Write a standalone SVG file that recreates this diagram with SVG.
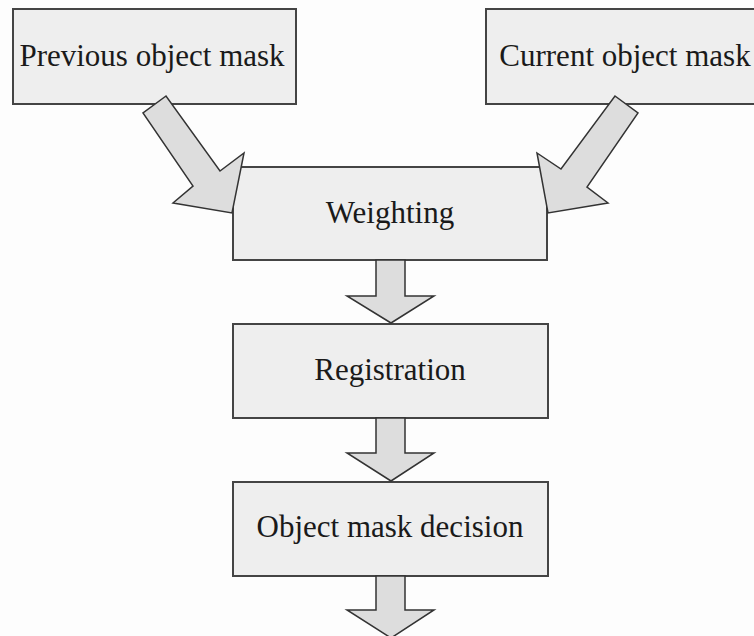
<svg xmlns="http://www.w3.org/2000/svg" width="754" height="636" viewBox="0 0 754 636">
  <style>
    .box { fill: #eeeeee; stroke: #444444; stroke-width: 2; }
    .arrow { fill: #dddddd; stroke: #333333; stroke-width: 1.5; stroke-linejoin: miter; }
    .label { font-family: "Liberation Serif", "Times New Roman", serif; font-size: 31px; fill: #1a1a1a; text-anchor: middle; }
  </style>
  <rect x="0" y="0" width="754" height="636" fill="#fdfdfd"/>

  <g id="previous-mask">
    <rect class="box" x="13" y="9" width="283" height="95"/>
    <text class="label" x="152" y="66">Previous object mask</text>
  </g>

  <g id="current-mask">
    <rect class="box" x="486" y="9" width="280" height="95"/>
    <text class="label" x="625" y="66">Current object mask</text>
  </g>

  <g id="weighting">
    <rect class="box" x="233" y="167" width="314" height="93"/>
    <text class="label" x="390" y="223">Weighting</text>
  </g>

  <g id="registration">
    <rect class="box" x="233" y="324" width="315" height="94"/>
    <text class="label" x="390" y="380">Registration</text>
  </g>

  <g id="object-mask-decision">
    <rect class="box" x="233" y="482" width="315" height="94"/>
    <text class="label" x="390" y="537">Object mask decision</text>
  </g>

  <!-- Block arrows between stages, drawn over the box edges -->
  <g id="connectors">
    <polygon class="arrow" points="166,96 143,113 193,186 173,203 232,213 244,153 220,171"/>
    <polygon class="arrow" points="615,96 638,113 587,187 608,203 548,213 537,153 561,169"/>
    <polygon class="arrow" points="376,260 405,260 405,296 434,296 391,323 347,296 376,296"/>
    <polygon class="arrow" points="376,418 405,418 405,453 434,453 391,481 347,453 376,453"/>
    <polygon class="arrow" points="376,576 405,576 405,610 434,610 391,638 347,610 376,610"/>
  </g>
</svg>
